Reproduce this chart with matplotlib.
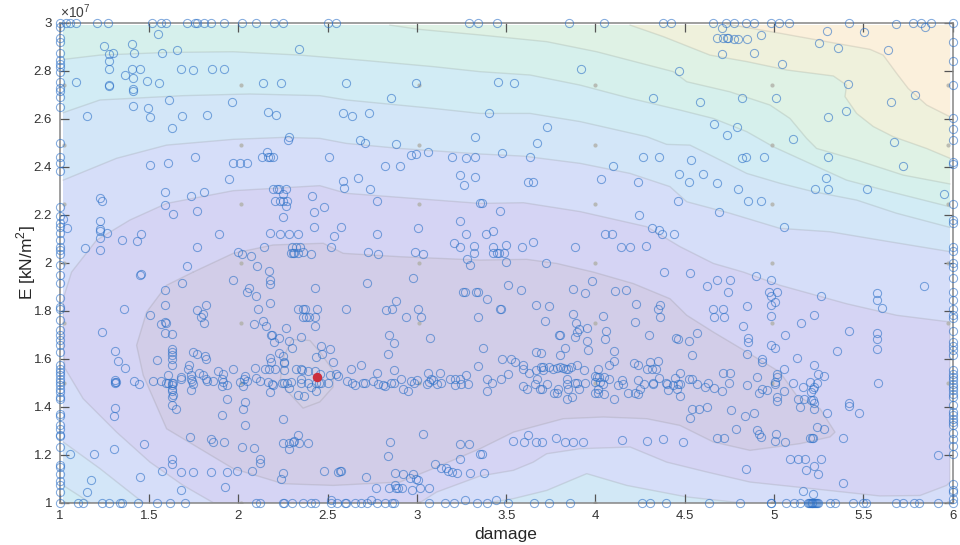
import matplotlib
matplotlib.use('Agg')
import matplotlib.pyplot as plt

plt.rcParams['font.family'] = ['Liberation Sans', 'DejaVu Sans']
plt.rcParams['mathtext.fontset'] = 'custom'
plt.rcParams['mathtext.rm'] = 'Liberation Sans'

# points sitting on the axes limits
top_damage = [1.035, 1.058, 1.09, 1.21, 1.27, 1.52, 1.57, 1.595, 1.716, 1.76, 1.77, 1.81, 1.85, 1.92, 2.02, 2.10, 2.20, 2.25,
              2.50, 2.55, 3.29, 3.34, 3.45, 3.85, 4.05, 4.38, 4.425, 4.66, 4.73, 4.775, 4.84, 4.89, 4.985, 5.03, 5.085,
              5.42, 5.78, 5.82, 5.88]
bottom_damage = [1.105, 1.13, 1.24, 1.275, 1.34, 1.35, 1.44, 1.545, 1.62, 1.70, 2.10, 2.12, 2.25, 2.255, 2.30, 2.36, 2.41, 2.43,
                 2.52, 2.555, 2.60, 2.605, 2.655, 2.685, 2.72, 2.775, 2.82, 2.86, 2.87, 3.07, 3.155, 3.21, 3.335, 3.39, 3.51,
                 3.655, 3.74, 3.86, 4.26, 4.305, 4.395, 4.635, 4.81, 4.98, 4.985, 5.065, 5.11, 5.145, 5.19, 5.195, 5.2, 5.205,
                 5.21, 5.215, 5.22, 5.225, 5.23, 5.235, 5.24, 5.245, 5.315, 5.34, 5.44, 5.5, 5.515, 5.685, 5.72, 5.785, 5.81, 5.915]
left_E = [3.0, 2.983, 2.935, 2.92, 2.872, 2.844, 2.83, 2.817, 2.796, 2.754, 2.726, 2.717, 2.692, 2.647, 2.5, 2.442, 2.414, 2.382, 2.231,
          2.194, 2.167, 2.15, 2.122, 2.094, 2.067, 2.053, 2.036, 1.99, 1.947, 1.917, 1.853, 1.815, 1.808, 1.76, 1.718, 1.697,
          1.676, 1.656, 1.628, 1.572, 1.558, 1.544, 1.531, 1.517, 1.503, 1.489, 1.475, 1.461, 1.44, 1.431, 1.371, 1.361,
          1.322, 1.308, 1.283, 1.278, 1.232, 1.158, 1.149, 1.121, 1.089, 1.072, 1.044, 1.0]
right_E = [3.0, 2.919, 2.842, 2.742, 2.604, 2.557, 2.51, 2.418, 2.411, 2.246, 2.178, 2.167, 2.067, 2.05, 1.997, 1.983, 1.936, 1.878,
           1.843, 1.808, 1.783, 1.769, 1.714, 1.669, 1.653, 1.635, 1.614, 1.551, 1.538, 1.524, 1.51, 1.496, 1.482, 1.468, 1.454,
           1.44, 1.406, 1.378, 1.364, 1.35, 1.336, 1.322, 1.292, 1.267, 1.236, 1.204, 1.079, 1.051, 1.044, 1.014, 1.0]

# points in the upper half of the plot
upper_left = [(1.55, 2.954), (1.246, 2.904), (1.403, 2.911), (1.276, 2.868), (1.30, 2.875), (1.416, 2.875), (1.575, 2.875),
              (1.657, 2.885), (2.34, 2.892), (1.276, 2.842), (1.276, 2.807), (1.407, 2.807), (1.451, 2.807), (1.677, 2.807),
              (1.748, 2.803), (1.853, 2.807), (1.92, 2.807), (1.364, 2.781), (1.412, 2.768), (1.489, 2.758), (1.091, 2.751),
              (1.276, 2.738), (1.276, 2.742), (1.412, 2.724), (1.412, 2.717), (1.554, 2.749), (2.14, 2.749), (2.239, 2.749),
              (2.603, 2.749), (2.994, 2.749), (2.854, 2.685), (1.614, 2.678), (1.965, 2.668), (1.412, 2.653), (1.494, 2.643),
              (1.506, 2.608), (1.685, 2.612), (1.823, 2.617), (1.153, 2.611), (2.164, 2.628), (2.211, 2.617), (2.588, 2.622),
              (2.638, 2.612), (2.731, 2.622), (1.632, 2.56), (2.285, 2.525), (2.278, 2.512), (2.683, 2.511), (2.709, 2.497),
              (2.881, 2.493), (3.325, 2.522), (2.162, 2.461), (2.131, 2.442), (2.168, 2.442), (2.177, 2.442), (2.196, 2.442),
              (2.509, 2.442), (1.759, 2.442), (1.506, 2.406), (1.606, 2.414), (1.97, 2.414), (2.009, 2.414), (2.05, 2.414),
              (2.966, 2.447), (2.996, 2.451), (3.063, 2.46), (3.198, 2.442), (3.278, 2.438), (3.325, 2.442), (2.819, 2.403),
              (2.905, 2.404), (1.948, 2.35), (2.672, 2.353), (2.584, 2.339), (2.59, 2.311), (2.735, 2.307), (3.241, 2.364),
              (3.325, 2.356), (3.265, 2.324), (1.59, 2.293), (1.808, 2.293), (1.735, 2.279), (1.226, 2.271), (1.239, 2.257),
              (1.59, 2.239), (1.767, 2.217), (1.636, 2.201), (2.192, 2.308), (2.218, 2.308), (2.229, 2.308), (2.27, 2.308),
              (2.252, 2.286), (2.205, 2.258), (2.233, 2.258), (2.248, 2.258), (2.274, 2.258), (2.265, 2.236), (2.252, 2.192),
              (2.414, 2.278), (2.478, 2.233), (2.424, 2.21), (2.778, 2.258), (3.353, 2.247), (1.226, 2.174), (1.226, 2.14),
              (1.226, 2.132), (1.226, 2.104), (1.263, 2.125), (1.041, 2.143), (1.02, 2.182), (1.349, 2.093), (1.435, 2.092),
              (1.455, 2.119), (1.894, 2.118), (2.177, 2.125), (2.235, 2.118), (2.285, 2.118), (2.336, 2.118), (2.427, 2.147),
              (2.576, 2.147), (2.534, 2.113), (2.778, 2.118), (3.004, 2.144), (3.241, 2.172), (3.274, 2.118), (3.207, 2.082),
              (3.241, 2.064), (3.319, 2.071), (3.282, 2.015), (3.319, 2.039), (3.297, 1.99), (1.144, 2.061), (1.226, 2.054),
              (1.767, 2.064), (1.996, 2.044), (2.019, 2.036), (2.073, 2.029), (2.146, 2.064), (2.299, 2.064), (2.323, 2.064),
              (2.345, 2.064), (2.295, 2.039), (2.304, 2.039), (2.312, 2.039), (2.332, 2.039), (2.36, 2.043), (2.405, 2.036),
              (2.522, 2.064), (2.724, 2.044), (2.784, 2.036), (2.989, 2.044), (3.034, 2.036), (1.716, 1.986), (2.105, 1.986),
              (2.174, 1.967), (1.453, 1.955)]
upper_right = [(4.708, 2.979), (4.927, 2.95), (4.68, 2.935), (4.712, 2.938), (4.736, 2.935), (4.744, 2.935), (4.776, 2.933),
               (4.80, 2.933), (4.847, 2.933), (5.294, 2.964), (5.503, 2.961), (5.68, 2.994), (5.847, 2.983), (5.251, 2.917),
               (5.358, 2.894), (5.64, 2.888), (4.708, 2.871), (4.89, 2.875), (5.042, 2.828), (3.919, 2.806), (4.468, 2.8),
               (3.455, 2.751), (3.542, 2.749), (5.416, 2.744), (4.324, 2.685), (4.585, 2.668), (4.818, 2.685), (5.011, 2.685),
               (5.656, 2.671), (5.79, 2.699), (5.302, 2.607), (5.404, 2.631), (3.404, 2.624), (3.729, 2.567), (4.662, 2.578),
               (4.794, 2.567), (4.735, 2.532), (5.104, 2.514), (5.669, 2.501), (3.673, 2.5), (3.477, 2.458), (3.634, 2.442),
               (4.264, 2.442), (4.356, 2.442), (4.533, 2.426), (4.82, 2.435), (4.841, 2.442), (4.944, 2.442), (5.302, 2.442),
               (5.722, 2.404), (4.10, 2.401), (3.621, 2.336), (3.651, 2.336), (4.029, 2.35), (4.238, 2.336), (4.47, 2.369),
               (4.60, 2.369), (4.522, 2.336), (4.682, 2.332), (4.798, 2.307), (5.289, 2.353), (5.229, 2.307), (5.302, 2.307),
               (5.522, 2.306), (5.953, 2.286), (4.46, 2.258), (4.854, 2.258), (4.925, 2.258), (3.363, 2.247), (3.466, 2.214),
               (4.242, 2.199), (4.692, 2.21), (5.055, 2.147), (3.425, 2.131), (3.388, 2.118), (4.315, 2.144), (4.356, 2.138),
               (4.375, 2.118), (4.438, 2.118), (4.055, 2.118), (4.093, 2.119), (3.501, 2.074), (3.425, 2.064), (3.587, 2.064),
               (3.649, 2.088), (3.888, 2.064), (4.145, 2.064), (4.195, 2.064), (4.281, 2.068), (3.429, 2.039), (3.451, 2.039),
               (3.462, 2.039), (3.488, 2.039), (3.501, 2.001), (3.725, 2.0), (4.384, 1.962), (4.529, 1.956)]

# points in the lower half, left of damage = 3.35
lower_left = [(1.451, 1.947), (1.685, 1.915), (1.968, 1.926), (2.177, 1.926), (2.177, 1.913), (2.062, 1.894), (2.047, 1.878),
              (2.097, 1.863), (2.429, 1.894), (2.72, 1.915), (2.978, 1.935), (1.591, 1.885), (1.591, 1.822), (1.817, 1.825),
              (1.362, 1.808), (1.506, 1.781), (1.767, 1.804), (1.804, 1.785), (1.789, 1.774), (1.808, 1.749), (2.179, 1.831),
              (2.108, 1.808), (2.336, 1.808), (2.36, 1.808), (2.373, 1.808), (2.44, 1.808), (2.606, 1.808), (2.36, 1.774),
              (2.379, 1.774), (2.394, 1.774), (2.429, 1.774), (2.431, 1.738), (2.83, 1.801), (2.862, 1.808), (2.882, 1.84),
              (2.94, 1.774), (3.006, 1.808), (3.024, 1.774), (3.259, 1.878), (3.272, 1.878), (3.33, 1.878), (3.343, 1.878),
              (3.345, 1.774), (1.565, 1.744), (1.591, 1.753), (1.593, 1.75), (1.591, 1.707), (1.627, 1.704), (2.088, 1.746),
              (2.136, 1.756), (2.155, 1.736), (2.265, 1.728), (2.181, 1.7), (2.188, 1.697), (2.228, 1.686), (2.201, 1.668),
              (2.349, 1.69), (2.285, 1.672), (2.302, 1.644), (1.239, 1.711), (2.845, 1.697), (2.871, 1.667), (3.076, 1.686),
              (2.461, 1.653), (2.513, 1.64), (2.47, 1.621), (2.433, 1.607), (2.836, 1.621), (1.312, 1.631), (1.325, 1.592),
              (1.366, 1.561), (1.627, 1.642), (1.627, 1.628), (1.627, 1.614), (1.627, 1.597), (1.627, 1.572), (1.547, 1.594),
              (1.748, 1.628), (1.767, 1.621), (1.813, 1.611), (1.817, 1.597), (2.226, 1.624), (2.252, 1.611), (2.256, 1.583),
              (2.259, 1.586), (2.177, 1.603), (2.183, 1.586), (1.724, 1.572), (1.72, 1.558), (1.972, 1.558), (2.093, 1.561),
              (2.151, 1.558), (2.17, 1.558), (2.205, 1.558), (2.256, 1.551), (2.326, 1.558), (2.351, 1.558), (2.356, 1.554),
              (2.388, 1.547), (2.429, 1.547), (2.457, 1.538), (2.532, 1.586), (2.634, 1.557), (2.69, 1.574), (2.778, 1.54),
              (2.871, 1.554), (3.06, 1.54), (3.129, 1.54), (3.274, 1.531), (3.341, 1.569), (1.606, 1.533), (1.78, 1.54),
              (1.884, 1.549), (1.916, 1.538), (1.679, 1.524), (1.733, 1.531), (1.804, 1.531), (2.037, 1.528), (2.097, 1.519),
              (2.55, 1.538), (2.56, 1.528), (2.513, 1.531), (3.185, 1.514), (3.213, 1.517), (3.241, 1.517), (1.31, 1.51),
              (1.31, 1.505), (1.31, 1.5), (1.314, 1.503), (1.418, 1.506), (1.444, 1.496), (1.521, 1.506), (1.565, 1.508),
              (1.593, 1.5), (1.608, 1.5), (1.627, 1.5), (1.636, 1.5), (1.627, 1.489), (1.627, 1.475), (1.627, 1.464), (1.636, 1.45),
              (1.627, 1.439), (1.627, 1.408), (1.651, 1.39), (1.679, 1.514), (1.733, 1.514), (1.739, 1.506), (1.748, 1.496),
              (1.733, 1.469), (1.819, 1.517), (1.826, 1.506), (1.86, 1.507), (1.907, 1.514), (1.912, 1.503), (1.907, 1.485),
              (1.935, 1.492), (2.009, 1.503), (2.028, 1.485), (2.047, 1.506), (2.034, 1.514), (1.935, 1.432), (2.037, 1.419),
              (2.028, 1.392), (1.907, 1.364), (2.037, 1.322), (2.121, 1.506), (2.164, 1.503), (2.187, 1.496), (2.196, 1.489),
              (2.177, 1.461), (2.243, 1.5), (2.256, 1.5), (2.271, 1.5), (2.293, 1.503), (2.285, 1.478), (2.354, 1.5), (2.354, 1.517),
              (2.392, 1.5), (2.336, 1.447), (2.368, 1.444), (2.41, 1.482), (2.433, 1.464), (2.438, 1.5), (2.453, 1.5), (2.466, 1.5),
              (2.504, 1.5), (2.252, 1.35), (2.61, 1.507), (2.638, 1.5), (2.653, 1.492), (2.7, 1.499), (2.709, 1.499), (2.752, 1.506),
              (2.78, 1.494), (2.812, 1.492), (2.821, 1.486), (2.858, 1.499), (2.871, 1.499), (2.914, 1.514), (2.923, 1.472),
              (2.951, 1.467), (2.966, 1.508), (2.985, 1.499), (3.002, 1.51), (3.058, 1.496), (3.067, 1.503), (3.082, 1.514),
              (3.091, 1.51), (3.114, 1.496), (3.133, 1.499), (3.213, 1.492), (3.25, 1.496), (3.287, 1.493), (1.31, 1.394),
              (1.302, 1.361), (1.731, 1.274), (1.472, 1.246), (1.304, 1.222), (1.058, 1.204), (1.194, 1.201), (1.845, 1.267),
              (1.86, 1.253), (1.922, 1.251), (2.019, 1.232), (2.086, 1.228), (2.252, 1.25), (2.285, 1.25), (2.285, 1.225),
              (2.304, 1.253), (2.315, 1.257), (2.336, 1.281), (2.341, 1.25), (2.388, 1.25), (3.037, 1.286), (2.851, 1.251),
              (2.838, 1.193), (3.243, 1.246), (3.291, 1.243), (3.239, 1.182), (3.353, 1.201), (1.627, 1.183), (1.627, 1.163),
              (1.575, 1.131), (1.677, 1.126), (1.746, 1.126), (1.845, 1.126), (1.937, 1.126), (1.991, 1.132), (2.075, 1.132),
              (2.121, 1.183), (2.121, 1.167), (2.252, 1.125), (2.239, 1.099), (2.478, 1.132), (2.56, 1.126), (2.569, 1.131),
              (2.578, 1.133), (2.718, 1.106), (2.875, 1.124), (2.925, 1.118), (2.978, 1.121), (2.961, 1.104), (2.993, 1.1),
              (3.007, 1.093), (3.099, 1.16), (3.136, 1.146), (3.166, 1.143), (3.175, 1.132), (3.198, 1.126), (3.226, 1.124),
              (3.295, 1.124), (1.45, 1.107), (1.175, 1.094), (1.153, 1.044), (1.679, 1.054), (1.925, 1.065), (2.771, 1.061),
              (2.845, 1.061), (2.877, 1.072), (2.881, 1.061), (2.896, 1.061), (2.918, 1.061), (2.974, 1.054), (3.02, 1.061),
              (3.067, 1.061), (3.272, 1.01), (2.519, 1.01), (2.746, 1.01)]

# points in the lower half, right of damage = 3.35
lower_right = [(3.509, 1.908), (3.583, 1.885), (3.873, 1.89), (3.979, 1.922), (3.942, 1.875), (4.11, 1.882), (4.169, 1.885),
               (3.391, 1.85), (3.466, 1.808), (3.469, 1.808), (3.666, 1.822), (3.742, 1.819), (3.876, 1.788), (4.041, 1.779),
               (4.229, 1.826), (4.361, 1.822), (4.35, 1.808), (4.363, 1.775), (3.716, 1.757), (3.889, 1.749), (4.222, 1.754),
               (3.951, 1.728), (3.91, 1.725), (4.057, 1.717), (3.895, 1.71), (3.886, 1.689), (3.796, 1.697), (3.8, 1.697),
               (4.054, 1.683), (4.302, 1.697), (4.451, 1.686), (4.464, 1.683), (4.526, 1.672), (4.57, 1.707), (3.955, 1.674),
               (3.96, 1.638), (3.832, 1.643), (3.369, 1.644), (3.666, 1.628), (3.694, 1.624), (3.802, 1.615), (4.106, 1.633),
               (4.106, 1.592), (4.541, 1.614), (3.479, 1.6), (3.529, 1.6), (3.55, 1.586), (3.597, 1.572), (3.593, 1.558),
               (3.628, 1.542), (3.666, 1.551), (3.695, 1.565), (3.705, 1.565), (3.708, 1.551), (3.74, 1.565), (3.764, 1.556),
               (3.787, 1.561), (3.802, 1.565), (3.82, 1.562), (3.835, 1.559), (3.848, 1.559), (3.861, 1.565), (3.899, 1.572),
               (3.938, 1.554), (4.078, 1.572), (4.013, 1.556), (4.218, 1.582), (4.24, 1.575), (4.305, 1.586), (4.348, 1.592),
               (4.287, 1.557), (4.315, 1.558), (4.337, 1.558), (4.473, 1.54), (4.712, 1.54), (4.753, 1.54), (4.85, 1.619),
               (4.852, 1.669), (4.852, 1.687), (4.828, 1.736), (4.85, 1.819), (4.656, 1.808), (4.712, 1.808), (4.666, 1.775),
               (4.722, 1.775), (4.744, 1.878), (4.624, 1.903), (4.682, 1.929), (4.753, 1.929), (4.901, 1.943), (4.981, 1.926),
               (4.972, 1.878), (5.014, 1.878), (4.981, 1.861), (5.005, 1.836), (4.981, 1.825), (4.981, 1.778), (5.264, 1.861),
               (5.225, 1.781), (5.149, 1.75), (5.574, 1.872), (5.574, 1.843), (5.602, 1.813), (5.837, 1.903), (5.059, 1.7),
               (5.419, 1.717), (5.574, 1.707), (5.574, 1.683), (5.574, 1.639), (5.354, 1.633), (4.981, 1.656), (5.003, 1.644),
               (4.93, 1.6), (4.93, 1.586), (5.126, 1.604), (5.222, 1.572), (5.248, 1.535), (5.279, 1.526), (5.056, 1.558),
               (5.014, 1.538), (5.014, 1.524), (5.005, 1.503), (5.005, 1.496), (5.104, 1.5), (5.238, 1.499), (5.203, 1.503),
               (5.225, 1.482), (5.22, 1.475), (5.205, 1.461), (5.16, 1.482), (5.583, 1.5), (4.902, 1.524), (4.847, 1.489),
               (4.958, 1.468), (4.93, 1.472), (4.917, 1.458), (5.056, 1.464), (5.014, 1.44), (5.014, 1.424), (5.136, 1.433),
               (5.169, 1.433), (5.205, 1.428), (5.216, 1.428), (5.225, 1.417), (5.145, 1.399), (5.223, 1.392), (5.294, 1.375),
               (5.419, 1.417), (5.419, 1.403), (5.475, 1.375), (3.391, 1.517), (3.421, 1.5), (3.472, 1.517), (3.513, 1.538),
               (3.395, 1.464), (3.597, 1.485), (3.617, 1.472), (3.671, 1.517), (3.662, 1.496), (3.69, 1.475), (3.701, 1.475),
               (3.731, 1.496), (3.768, 1.458), (3.783, 1.458), (3.792, 1.475), (3.843, 1.514), (3.843, 1.496), (3.848, 1.472),
               (3.839, 1.433), (3.871, 1.439), (3.886, 1.499), (3.899, 1.499), (3.908, 1.475), (3.942, 1.499), (4.0, 1.528),
               (4.008, 1.524), (4.0, 1.503), (4.023, 1.503), (4.022, 1.522), (4.048, 1.524), (4.076, 1.514), (4.044, 1.496),
               (4.0, 1.458), (4.016, 1.475), (4.016, 1.458), (4.05, 1.454), (4.106, 1.433), (4.128, 1.489), (4.147, 1.51),
               (4.156, 1.496), (4.184, 1.458), (4.222, 1.458), (4.236, 1.454), (4.25, 1.475), (4.236, 1.51), (4.274, 1.496),
               (4.32, 1.496), (4.324, 1.499), (4.356, 1.521), (4.395, 1.499), (4.403, 1.496), (4.404, 1.468), (4.436, 1.489),
               (4.445, 1.521), (4.464, 1.496), (4.473, 1.496), (4.455, 1.472), (4.473, 1.443), (4.526, 1.514), (4.541, 1.517),
               (4.57, 1.493), (4.613, 1.482), (4.63, 1.5), (4.664, 1.479), (4.708, 1.464), (4.748, 1.5), (4.541, 1.389),
               (4.529, 1.353), (4.58, 1.392), (4.625, 1.399), (4.757, 1.385), (4.835, 1.363), (4.889, 1.374), (4.785, 1.307),
               (4.903, 1.301), (4.916, 1.288), (4.927, 1.272), (4.679, 1.271), (4.72, 1.271), (5.013, 1.288), (5.003, 1.257),
               (5.063, 1.251), (5.242, 1.315), (5.279, 1.306), (5.201, 1.271), (5.21, 1.271), (5.216, 1.271), (5.386, 1.271),
               (3.537, 1.258), (3.6, 1.251), (3.621, 1.281), (3.666, 1.251), (3.701, 1.251), (3.779, 1.269), (3.828, 1.251),
               (3.873, 1.251), (3.932, 1.251), (4.147, 1.261), (4.289, 1.257), (4.38, 1.267), (4.49, 1.251), (3.363, 1.201),
               (3.376, 1.124), (5.087, 1.182), (5.136, 1.182), (5.173, 1.182), (5.261, 1.182), (5.223, 1.154), (5.177, 1.135),
               (5.244, 1.121), (4.841, 1.14), (5.386, 1.082), (5.164, 1.049), (5.216, 1.035), (3.444, 1.011), (5.916, 1.2)]

best_point = (2.44, 1.525)

# response surface sample grid (the faint grey dots)
grid_damage = [1.025, 2.015, 3.01, 4.0, 4.99, 5.975]
grid_E = [1.0, 1.5, 1.75, 2.0, 2.245, 2.49, 2.74]

# contour lines, (damage, E/1e7)
top_level_0 = [(4.735, 2.994), (5.033, 2.956), (5.294, 2.921), (5.537, 2.889), (5.611, 2.865), (5.686, 2.789), (5.751, 2.726),
               (5.854, 2.657), (5.985, 2.608)]
top_level_1 = [(4.194, 2.99), (4.380, 2.942), (4.641, 2.865), (4.847, 2.838), (5.070, 2.803), (5.332, 2.778), (5.406, 2.74),
               (5.397, 2.692), (5.462, 2.622), (5.556, 2.567), (5.667, 2.525), (5.854, 2.476), (5.985, 2.435)]
top_level_2 = [(2.849, 2.99), (3.017, 2.972), (3.353, 2.949), (3.727, 2.921), (4.007, 2.879), (4.436, 2.796), (4.511, 2.754),
               (4.753, 2.712), (4.977, 2.657), (5.089, 2.601), (5.182, 2.518), (5.238, 2.476), (5.462, 2.428), (5.723, 2.365),
               (5.985, 2.328)]
top_level_3 = [(1.02, 2.847), (1.226, 2.865), (1.599, 2.876), (1.972, 2.879), (2.345, 2.865), (2.718, 2.842), (3.091, 2.817),
               (3.353, 2.796), (3.634, 2.782), (3.914, 2.74), (4.194, 2.685), (4.473, 2.636), (4.66, 2.601), (4.847, 2.546),
               (4.996, 2.483), (5.22, 2.407), (5.406, 2.344), (5.649, 2.296), (5.985, 2.233)]
top_level_4 = [(1.02, 2.625), (1.226, 2.678), (1.692, 2.696), (2.065, 2.703), (2.457, 2.696), (2.606, 2.678), (3.091, 2.643),
               (3.353, 2.622), (3.634, 2.622), (3.914, 2.588), (4.287, 2.525), (4.399, 2.493), (4.529, 2.49), (4.66, 2.442),
               (4.847, 2.372), (5.033, 2.331), (5.22, 2.296), (5.462, 2.261), (5.686, 2.206), (5.985, 2.147)]
top_level_5 = [(1.02, 2.344), (1.319, 2.435), (1.599, 2.49), (1.972, 2.514), (2.252, 2.522), (2.457, 2.518), (2.606, 2.497),
               (2.905, 2.476), (3.353, 2.453), (3.597, 2.444), (3.914, 2.414), (4.194, 2.372), (4.417, 2.317), (4.511, 2.254),
               (4.753, 2.206), (5.033, 2.143), (5.313, 2.129), (5.593, 2.094), (5.985, 2.046)]
inner_level_6 = [(1.02, 1.65), (1.03, 1.56), (1.132, 1.433), (1.319, 1.294), (1.506, 1.169), (1.692, 1.072), (1.86, 1.0), (3.017, 1.0),
                 (3.11, 1.044), (3.353, 1.111), (3.541, 1.135), (3.652, 1.169), (3.727, 1.204), (3.914, 1.225), (4.194, 1.232),
                 (4.399, 1.169), (4.623, 1.128), (4.865, 1.086), (5.22, 1.058), (5.593, 1.028), (5.817, 1.03), (5.966, 1.072),
                 (5.985, 1.086), (5.985, 1.753), (5.686, 1.781), (5.406, 1.829), (5.033, 1.906), (4.828, 1.961), (4.66, 1.997),
                 (4.473, 2.067), (4.287, 2.15), (3.914, 2.213), (3.597, 2.25), (3.354, 2.247), (2.606, 2.289), (2.457, 2.321),
                 (1.972, 2.3), (1.599, 2.247), (1.394, 2.178), (1.207, 2.094), (1.067, 1.961), (1.02, 1.85)]
inner_level_7 = [(1.748, 1.961), (1.972, 2.039), (2.196, 2.074), (2.476, 2.081), (2.588, 2.039), (2.905, 2.025), (3.353, 2.011),
                 (3.615, 2.014), (3.783, 1.997), (3.988, 1.961), (4.212, 1.913), (4.417, 1.85), (4.511, 1.781), (4.66, 1.711),
                 (4.847, 1.628), (5.033, 1.544), (5.126, 1.447), (5.257, 1.392), (5.341, 1.294), (5.313, 1.274), (5.145, 1.246),
                 (4.865, 1.218), (4.66, 1.253), (4.473, 1.322), (4.287, 1.35), (4.044, 1.357), (3.82, 1.35), (3.541, 1.294),
                 (3.354, 1.225), (3.091, 1.142), (2.905, 1.086), (2.532, 1.072), (2.252, 1.079), (1.972, 1.142), (1.599, 1.308),
                 (1.468, 1.531), (1.431, 1.656), (1.487, 1.794), (1.599, 1.906)]
inner_level_8 = [(2.234, 1.498), (2.363, 1.394), (2.457, 1.42), (2.531, 1.482), (2.532, 1.55), (2.457, 1.628), (2.401, 1.676),
                 (2.30, 1.68), (2.25, 1.6)]
corner_level_1 = [(1.02, 1.253), (1.226, 1.142), (1.468, 1.0), (1.02, 1.0)]
corner_level_2 = [(1.02, 1.072), (1.17, 1.0), (1.02, 1.0)]
bottom_bump = [(3.4, 1.0), (3.541, 1.017), (3.727, 1.051), (3.951, 1.121), (4.175, 1.072), (4.511, 1.024), (4.809, 1.0)]

x_ticks = [1, 1.5, 2, 2.5, 3, 3.5, 4, 4.5, 5, 5.5, 6]
x_tick_labels = ['1', '1.5', '2', '2.5', '3', '3.5', '4', '4.5', '5', '5.5', '6']
y_ticks = [1, 1.2, 1.4, 1.6, 1.8, 2, 2.2, 2.4, 2.6, 2.8, 3]
y_tick_labels = ['1', '1.2', '1.4', '1.6', '1.8', '2', '2.2', '2.4', '2.6', '2.8', '3']

fig = plt.figure(figsize=(9.6, 5.45), dpi=100)
ax = fig.add_axes([59.6 / 960, 1 - 502.7 / 545, 893.1 / 960, 480 / 545])

x_lo, x_hi = 1.02, 5.985
y_lo, y_hi = 1.0, 2.99
line_col = (0.45, 0.45, 0.42, 0.17)

ax.fill([x_lo, x_hi, x_hi, x_lo], [y_lo, y_lo, y_hi, y_hi], color='#d6def9', lw=0, zorder=1)


def fill_above(line, col):
    xs = [p[0] for p in line]
    ys = [p[1] for p in line]
    ax.fill(xs + [x_hi, xs[0]], ys + [y_hi, y_hi], facecolor=col, edgecolor='none', zorder=1)
    ax.plot(xs, ys, color=line_col, lw=1, zorder=2)


def fill_closed(line, col, closed=True):
    xs = [p[0] for p in line]
    ys = [p[1] for p in line]
    ax.fill(xs, ys, facecolor=col, edgecolor='none', zorder=1)
    if closed:
        ax.plot(xs + xs[:1], ys + ys[:1], color=line_col, lw=1, zorder=2)
    else:
        ax.plot(xs, ys, color=line_col, lw=1, zorder=2)


fill_above(top_level_5, '#d3e6f8')
fill_above(top_level_4, '#d2ecf5')
fill_above(top_level_3, '#d6f0ec')
fill_above(top_level_2, '#dff2e5')
fill_above(top_level_1, '#eff1dc')
fill_above(top_level_0, '#fbf0dc')
fill_closed(inner_level_6, '#d5d4f4')
fill_closed(inner_level_7, '#d2cde8')
fill_closed(inner_level_8, '#d3cfe6')
fill_closed(corner_level_1, '#d3e6f8', closed=False)
fill_closed(corner_level_2, '#d2ecf5', closed=False)
fill_closed(bottom_bump, '#d2e8f6', closed=False)

# grey dots of the sampling grid
gx = [x for x in grid_damage for y in grid_E]
gy = [y for x in grid_damage for y in grid_E]
ax.plot(gx, gy, ls='none', marker='o', ms=3, color='#b0b0a8', mew=0, alpha=0.8, zorder=3)

interior = upper_left + upper_right + lower_left + lower_right
px = [p[0] for p in interior] + top_damage + bottom_damage + [1.0] * len(left_E) + [6.0] * len(right_E)
py = ([p[1] for p in interior] + [3.0] * len(top_damage) + [1.0] * len(bottom_damage) + left_E + right_E)
ax.plot(px, py, ls='none', marker='o', ms=5.9, mfc='none', mec='#2f72c8', mew=0.75, alpha=0.6, clip_on=False, zorder=5)
ax.plot([best_point[0]], [best_point[1]], ls='none', marker='o', ms=6.8, color='#cc2f3d', mew=0, zorder=6)

ax.set_xlim(1, 6)
ax.set_ylim(1, 3)
ax.set_xticks(x_ticks)
ax.set_xticklabels(x_tick_labels)
ax.set_yticks(y_ticks)
ax.set_yticklabels(y_tick_labels)
ax.tick_params(direction='in', length=6.5, width=0.9, color='#555555', labelcolor='#333333', labelsize=9.5,
               top=True, right=True, pad=5.5)
for s in ax.spines.values():
    s.set_color('#858585')
    s.set_linewidth(1.1)
    s.set_zorder(4)
ax.set_axisbelow(False)

ax.set_xlabel('damage', fontsize=12.5, color='#262626', labelpad=3)
ax.set_ylabel('E [kN/m$^2$]', fontsize=12.5, color='#262626', labelpad=-3)
ax.text(0.0, 1.004, r'$\times 10^{7}$', transform=ax.transAxes, fontsize=10, color='#404040', ha='left', va='bottom')

fig.savefig('out.png', dpi=100)
